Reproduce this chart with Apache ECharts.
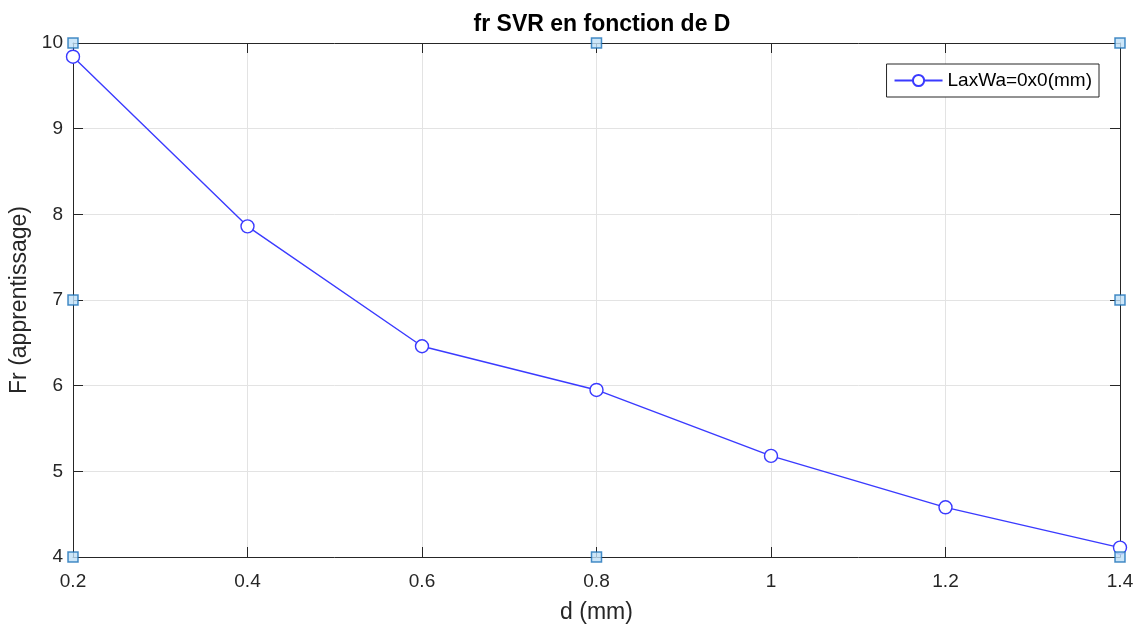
<!DOCTYPE html>
<html>
<head>
<meta charset="utf-8">
<script src="https://cdn.jsdelivr.net/npm/echarts@6/dist/echarts.min.js"></script>
<style>
  html, body { margin: 0; padding: 0; background: #fff; }
  #chart { width: 1141px; height: 628px; }
</style>
</head>
<body>
<div id="chart"></div>
<script>
// valeurs
const dValues = [0.2, 0.4, 0.6, 0.8, 1.0, 1.2, 1.4];
const frValues = [9.84, 7.86, 6.46, 5.95, 5.18, 4.58, 4.11];
// poignées de sélection (mode édition MATLAB)
const handleX = [0.2, 0.8, 1.4, 0.2, 1.4, 0.2, 0.8, 1.4];
const handleY = [10, 10, 10, 7, 7, 4, 4, 4];

const font = 'Liberation Sans, Arial, Helvetica, sans-serif';
const axisColor = '#262626';

const chart = echarts.init(document.getElementById('chart'));

const baseAxis = {
  axisLine: { show: true, onZero: false, lineStyle: { color: axisColor, width: 1 } },
  axisTick: { show: true, inside: true, length: 10, lineStyle: { color: axisColor } },
  splitLine: { show: false },
  axisLabel: { show: false }
};

chart.setOption({
  animation: false,
  textStyle: { fontFamily: font },
  title: {
    text: 'fr SVR en fonction de D',
    left: 597,
    textAlign: 'center',
    top: 8,
    textStyle: { fontSize: 23, fontWeight: 'bold', color: '#000', fontFamily: font }
  },
  legend: {
    data: ['LaxWa=0x0(mm)'],
    right: 42,
    top: 64,
    padding: [7, 7, 7, 7],
    borderColor: axisColor,
    borderWidth: 1,
    backgroundColor: '#fff',
    itemWidth: 48,
    itemHeight: 14,
    itemGap: 6,
    textStyle: { fontSize: 19, color: '#000', fontFamily: font }
  },
  grid: { left: 73, right: 21, top: 43, bottom: 71, containLabel: false, outerBoundsMode: 'none' },
  xAxis: [
    {
      ...baseAxis,
      type: 'value',
      min: 0.2,
      max: 1.4,
      interval: 0.2,
      name: 'd (mm)',
      nameLocation: 'middle',
      nameGap: 44,
      nameTextStyle: { fontSize: 23, color: axisColor, fontFamily: font },
      axisLabel: {
        show: true,
        fontSize: 19,
        color: axisColor,
        margin: 15,
        formatter: v => String(Math.round(v * 10) / 10)
      },
      splitLine: { show: true, lineStyle: { color: '#e3e3e3', width: 1 } }
    },
    {
      ...baseAxis,
      type: 'value',
      position: 'top',
      min: 0.2,
      max: 1.4,
      interval: 0.2
    }
  ],
  yAxis: [
    {
      ...baseAxis,
      type: 'value',
      min: 4,
      max: 10,
      interval: 1,
      name: 'Fr (apprentissage)',
      nameLocation: 'middle',
      nameGap: 37,
      nameTextStyle: { fontSize: 23, color: axisColor, fontFamily: font },
      axisLabel: { show: true, fontSize: 19, color: axisColor, margin: 10 },
      splitLine: { show: true, lineStyle: { color: '#e3e3e3', width: 1 } }
    },
    {
      ...baseAxis,
      type: 'value',
      position: 'right',
      min: 4,
      max: 10,
      interval: 1
    }
  ],
  series: [
    {
      name: 'LaxWa=0x0(mm)',
      type: 'line',
      data: dValues.map((d, i) => [d, frValues[i]]),
      symbol: 'circle',
      symbolSize: 13,
      showAllSymbol: true,
      clip: false,
      lineStyle: { color: '#3a3aff', width: 1.4 },
      itemStyle: { color: '#fff', borderColor: '#3a3aff', borderWidth: 1.4 }
    },
    {
      name: 'handles',
      type: 'scatter',
      data: handleX.map((x, i) => [x, handleY[i]]),
      symbol: 'rect',
      symbolSize: 10,
      clip: false,
      z: 5,
      itemStyle: { color: '#bfe0f8', borderColor: '#1a70b8', borderWidth: 1.5 },
      emphasis: { disabled: true }
    }
  ]
});
</script>
</body>
</html>
